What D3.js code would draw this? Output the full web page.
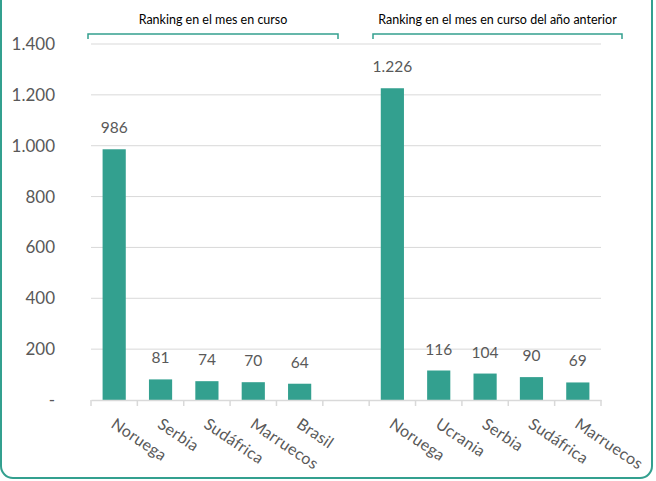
<!DOCTYPE html>
<html>
<head>
<meta charset="utf-8">
<script src="https://cdn.jsdelivr.net/npm/d3@7"></script>
<style>
  body { margin: 0; background: #fff; }
  text { font-family: Lato, "Open Sans", sans-serif; }
</style>
</head>
<body>
<svg id="chart" width="656" height="481"></svg>
<script>
// Data
const groupTitles = ["Ranking en el mes en curso", "Ranking en el mes en curso del año anterior"];
const currentCountries = ["Noruega", "Serbia", "Sudáfrica", "Marruecos", "Brasil"];
const currentValues = [986, 81, 74, 70, 64];
const previousCountries = ["Noruega", "Ucrania", "Serbia", "Sudáfrica", "Marruecos"];
const previousValues = [1226, 116, 104, 90, 69];
const yTicks = [0, 200, 400, 600, 800, 1000, 1200, 1400];

const barColor = "#33a08f";
const textColor = "#595959";
const gridColor = "#d9d9d9";

const svg = d3.select("#chart");
const margin = { top: 44, left: 91, right: 55, bottom: 81 };
const width = 656 - margin.left - margin.right;
const height = 481 - margin.top - margin.bottom;

// Frame round the whole chart
svg.append("rect")
  .attr("x", 1).attr("y", -30)
  .attr("width", 651).attr("height", 508)
  .attr("rx", 12)
  .attr("fill", "none")
  .attr("stroke", barColor)
  .attr("stroke-width", 2);

// one combined list with an empty slot between the groups
const rows = currentCountries.map((c, i) => ({ key: "a" + i, name: c, value: currentValues[i] }))
  .concat([{ key: "gap", name: "", value: null }])
  .concat(previousCountries.map((c, i) => ({ key: "b" + i, name: c, value: previousValues[i] })));

const x = d3.scaleBand()
  .domain(rows.map(d => d.key))
  .range([0, width])
  .paddingInner(0.5)
  .paddingOuter(0.25);

const y = d3.scaleLinear()
  .domain([0, 1400])
  .range([height, 0]);

const g = svg.append("g")
  .attr("transform", `translate(${margin.left},${margin.top})`);

// Gridlines
g.append("g")
  .selectAll("line")
  .data(yTicks.filter(t => t > 0))
  .join("line")
  .attr("x1", 0).attr("x2", width)
  .attr("y1", d => y(d)).attr("y2", d => y(d))
  .attr("stroke", gridColor)
  .attr("stroke-width", 1);

// Y axis labels
const fmt = d3.formatLocale({ decimal: ",", thousands: ".", grouping: [3], currency: ["", ""] }).format(",d");
g.append("g")
  .selectAll("text")
  .data(yTicks)
  .join("text")
  .attr("x", -36)
  .attr("y", d => y(d))
  .attr("dy", "0.35em")
  .attr("text-anchor", "end")
  .attr("fill", textColor)
  .style("font-size", "17px")
  .text(d => d === 0 ? "-" : fmt(d));

// Bars
g.append("g")
  .selectAll("rect")
  .data(rows.filter(d => d.value !== null))
  .join("rect")
  .attr("x", d => x(d.key))
  .attr("y", d => y(d.value))
  .attr("width", x.bandwidth())
  .attr("height", d => height - y(d.value))
  .attr("fill", barColor);

// Value labels
g.append("g")
  .selectAll("text")
  .data(rows.filter(d => d.value !== null))
  .join("text")
  .attr("x", d => x(d.key) + x.bandwidth() / 2)
  .attr("y", d => y(d.value) - 16)
  .attr("text-anchor", "middle")
  .attr("fill", textColor)
  .style("font-size", "15.5px")
  .text(d => fmt(d.value));

// X axis line
const step = x.step();
const axisG = g.append("g")
  .attr("transform", `translate(0,${height})`)
  .call(d3.axisBottom(x).tickSize(0).tickFormat(""));
axisG.select(".domain").attr("stroke", gridColor).attr("stroke-width", 1.5);

// Tick marks at slot boundaries
g.append("g")
  .selectAll("line")
  .data(d3.range(rows.length + 1))
  .join("line")
  .attr("x1", i => i * step).attr("x2", i => i * step)
  .attr("y1", height).attr("y2", height + 6)
  .attr("stroke", gridColor)
  .attr("stroke-width", 1.5);

// Rotated category labels
g.append("g")
  .selectAll("text")
  .data(rows.filter(d => d.name))
  .join("text")
  .attr("transform", d => `translate(${x(d.key) + x.bandwidth() / 2 - 1},${height + 22}) rotate(34)`)
  .attr("text-anchor", "start")
  .attr("dy", "0.35em")
  .attr("fill", textColor)
  .style("font-size", "16px")
  .style("letter-spacing", "0.3px")
  .text(d => d.name);

// Group brackets and titles
const groups = [
  { title: groupTitles[0], x0: -3, x1: 247 },
  { title: groupTitles[1], x0: 282, x1: 531 }
];
groups.forEach(gr => {
  const by = -10;
  g.append("path")
    .attr("d", `M${gr.x0},${by + 5}V${by}H${gr.x1}V${by + 5}`)
    .attr("fill", "none")
    .attr("stroke", barColor)
    .attr("stroke-width", 1.5);
  g.append("text")
    .attr("x", (gr.x0 + gr.x1) / 2)
    .attr("y", by - 10)
    .attr("text-anchor", "middle")
    .attr("fill", "#000")
    .style("font-size", "12.5px")
    .text(gr.title);
});
</script>
</body>
</html>
